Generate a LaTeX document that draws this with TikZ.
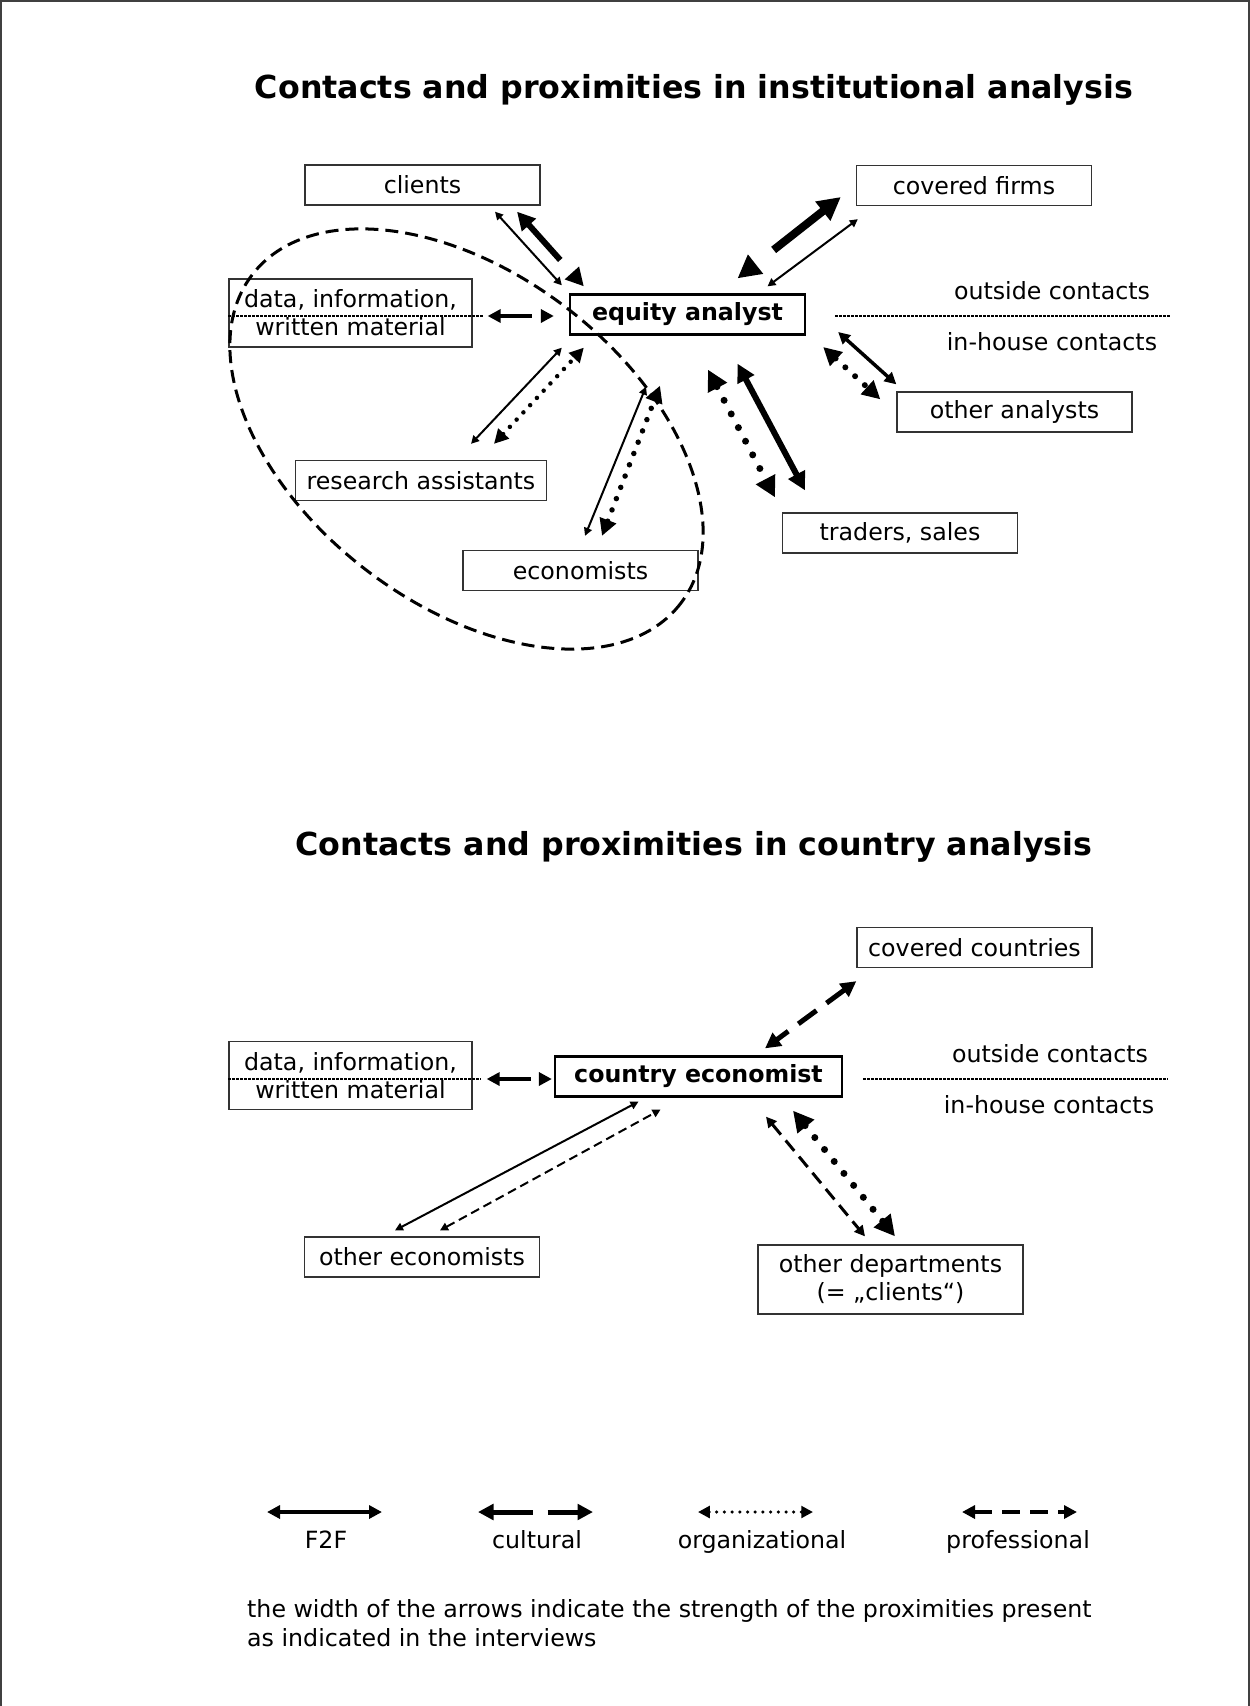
\documentclass[tikz,border=0pt]{standalone}
\usepackage{fontspec}
\setmainfont{DejaVu Sans}
\usetikzlibrary{arrows.meta}
\newcommand{\bodyfont}{\fontsize{23.7}{28}\selectfont}
\newcommand{\headfont}{\fontsize{31.7}{38}\selectfont\bfseries}
\tikzset{
  contact/.style={draw=black!80, line width=1.3pt, minimum width=235pt, minimum height=40pt,
    inner xsep=11pt, inner ysep=3pt},
  analyst/.style={contact, draw=black, line width=2.3pt, font=\bodyfont\bfseries},
  f2f/.style={line width=#1pt, <->},
  cultural/.style={line width=#1pt, dash pattern=on 8*#1pt off 3*#1pt, <->},
  organizational/.style={line width=#1pt, line cap=round, dash pattern=on 0pt off 2.2*#1pt, <->},
  professional/.style={line width=#1pt, dash pattern=on 4.5*#1pt off 2.5*#1pt, <->},
  divider/.style={line width=1.3pt, dash pattern=on 2.5pt off 1.5pt}
}

\begin{document}
\begin{tikzpicture}[x=1pt, y=-1pt, >={Triangle[length=3pt 2.5, width=3pt 2.5]},
  every node/.style={font=\bodyfont}]
  \useasboundingbox (0,0) rectangle (1250,1706);
  \draw[black!75, line width=2pt] (1,1706) -- (1,1) -- (1249,1) -- (1249,1706);

  % institutional analysis
  \node[anchor=base, font=\headfont] (title1) at (694,98) {Contacts and proximities in institutional analysis};

  \node[contact] (clients) at (422.5,185) {clients};
  \node[contact] (firms) at (974,185.5) {covered firms};
  \node[contact, minimum width=243pt, minimum height=68pt, align=center] (data1) at (350.5,313) {data, information,\\written material};
  \node[analyst] (equity) at (687.5,314.5) {equity analyst};
  \node[contact] (assist) at (421,480.5) {research assistants};
  \node[contact] (econ) at (580.5,570.5) {economists};
  \node[contact] (peers) at (1014.5,412) {other analysts};
  \node[contact] (traders) at (900,533) {traders, sales};

  \node[anchor=base] (outside1) at (1052,299) {outside contacts};
  \node[anchor=base] (inhouse1) at (1052,350) {in-house contacts};
  \draw[divider] (835,316) -- (1171,316);
  \draw[divider] ([shift={(0,3)}]data1.west) -- +(256,0);

  % in-house circle
  \coordinate (ring) at (466.5,439);
  \draw[line width=3pt, dash pattern=on 13pt off 7pt, rotate around={-37.5:(ring)}] (ring) ellipse [x radius=270, y radius=165];

  \draw[f2f=2] ([shift={(72.5,6)}]clients.south) -- ([shift={(-7,-8)}]equity.north west);
  \draw[cultural=6] ([shift={(94.5,6)}]clients.south) -- ([shift={(15,-7)}]equity.north west);
  \draw[cultural=4] ([shift={(15,3)}]data1.east) -- ([shift={(-15,1.5)}]equity.west);
  \draw[f2f=2] ([shift={(50,-16)}]assist.north) -- ([shift={(-7,12)}]equity.south west);
  \draw[organizational=4.5] ([shift={(73,-16)}]assist.north) -- ([shift={(15,12)}]equity.south west);
  \draw[f2f=2] ([shift={(4.5,-14)}]econ.north) -- ([shift={(-41.5,51)}]equity.south);
  \draw[organizational=5.5] ([shift={(21.5,-14)}]econ.north) -- ([shift={(-27.5,50)}]equity.south);
  \draw[cultural=8] ([shift={(-15,11.5)}]firms.west) -- ([shift={(50,-15)}]equity.north);
  \draw[f2f=2] ([shift={(2,13)}]firms.south west) -- ([shift={(80,-7)}]equity.north);
  \draw[f2f=3.5] ([shift={(32,17.5)}]equity.east) -- ([shift={(0,-7)}]peers.north west);
  \draw[organizational=6] ([shift={(17,32.5)}]equity.east) -- ([shift={(-16,8)}]peers.north west);
  \draw[f2f=6] ([shift={(50,28)}]equity.south) -- ([shift={(-95,-22)}]traders.north);
  \draw[organizational=7] ([shift={(20.5,34)}]equity.south) -- ([shift={(-125,-15)}]traders.north);

  % country analysis
  \node[anchor=base, font=\headfont] (title2) at (694,855) {Contacts and proximities in country analysis};

  \node[contact] (countries) at (974.5,947.5) {covered countries};
  \node[contact, minimum width=243pt, minimum height=68pt, align=center] (data2) at (350.5,1075.5) {data, information,\\written material};
  \node[analyst, minimum width=287pt] (ctry) at (698.5,1076.5) {country economist};
  \node[contact] (fellows) at (422,1257) {other economists};
  \node[contact, minimum width=265pt, minimum height=69pt, align=center] (depts) at (890.5,1279.5) {other departments\\(= „clients“)};

  \node[anchor=base] (outside2) at (1050,1062) {outside contacts};
  \node[anchor=base] (inhouse2) at (1049,1113) {in-house contacts};
  \draw[divider] (863,1079) -- (1168,1079);
  \draw[divider] ([shift={(0,3.5)}]data2.west) -- +(253,0);

  \draw[professional=5] ([shift={(0,13)}]countries.south west) -- ([shift={(66.5,-7)}]ctry.north);
  \draw[f2f=2] ([shift={(-27,-6)}]fellows.north) -- ([shift={(-60,4)}]ctry.south);
  \draw[professional=2] ([shift={(18,-6)}]fellows.north) -- ([shift={(-38,12)}]ctry.south);
  \draw[professional=3] ([shift={(67.5,19)}]ctry.south) -- ([shift={(-25.5,-8)}]depts.north);
  \draw[organizational=7] ([shift={(94.5,13)}]ctry.south) -- ([shift={(4.5,-8)}]depts.north);
  \draw[cultural=4] ([shift={(14,3.5)}]data2.east) -- ([shift={(-2,2.5)}]ctry.west);

  % legend
  \foreach \x/\lx/\kind/\lw/\lab in {324.5/326/f2f/4/F2F, 535.5/537/cultural/5/cultural,
    755.5/762/organizational/3.5/organizational, 1019.5/1018/professional/4/professional} {
    \draw[\kind=\lw] (\x-57.5,1512) -- (\x+57.5,1512);
    \node[anchor=base] (key-\kind) at (\lx,1548) {\lab};
  }
  \node[anchor=base west, align=left, inner sep=0pt, font=\fontsize{23.7}{29}\selectfont] (note) at (247,1646)
    {the width of the arrows indicate the strength of the proximities present\\as indicated in the interviews};
\end{tikzpicture}
\end{document}
